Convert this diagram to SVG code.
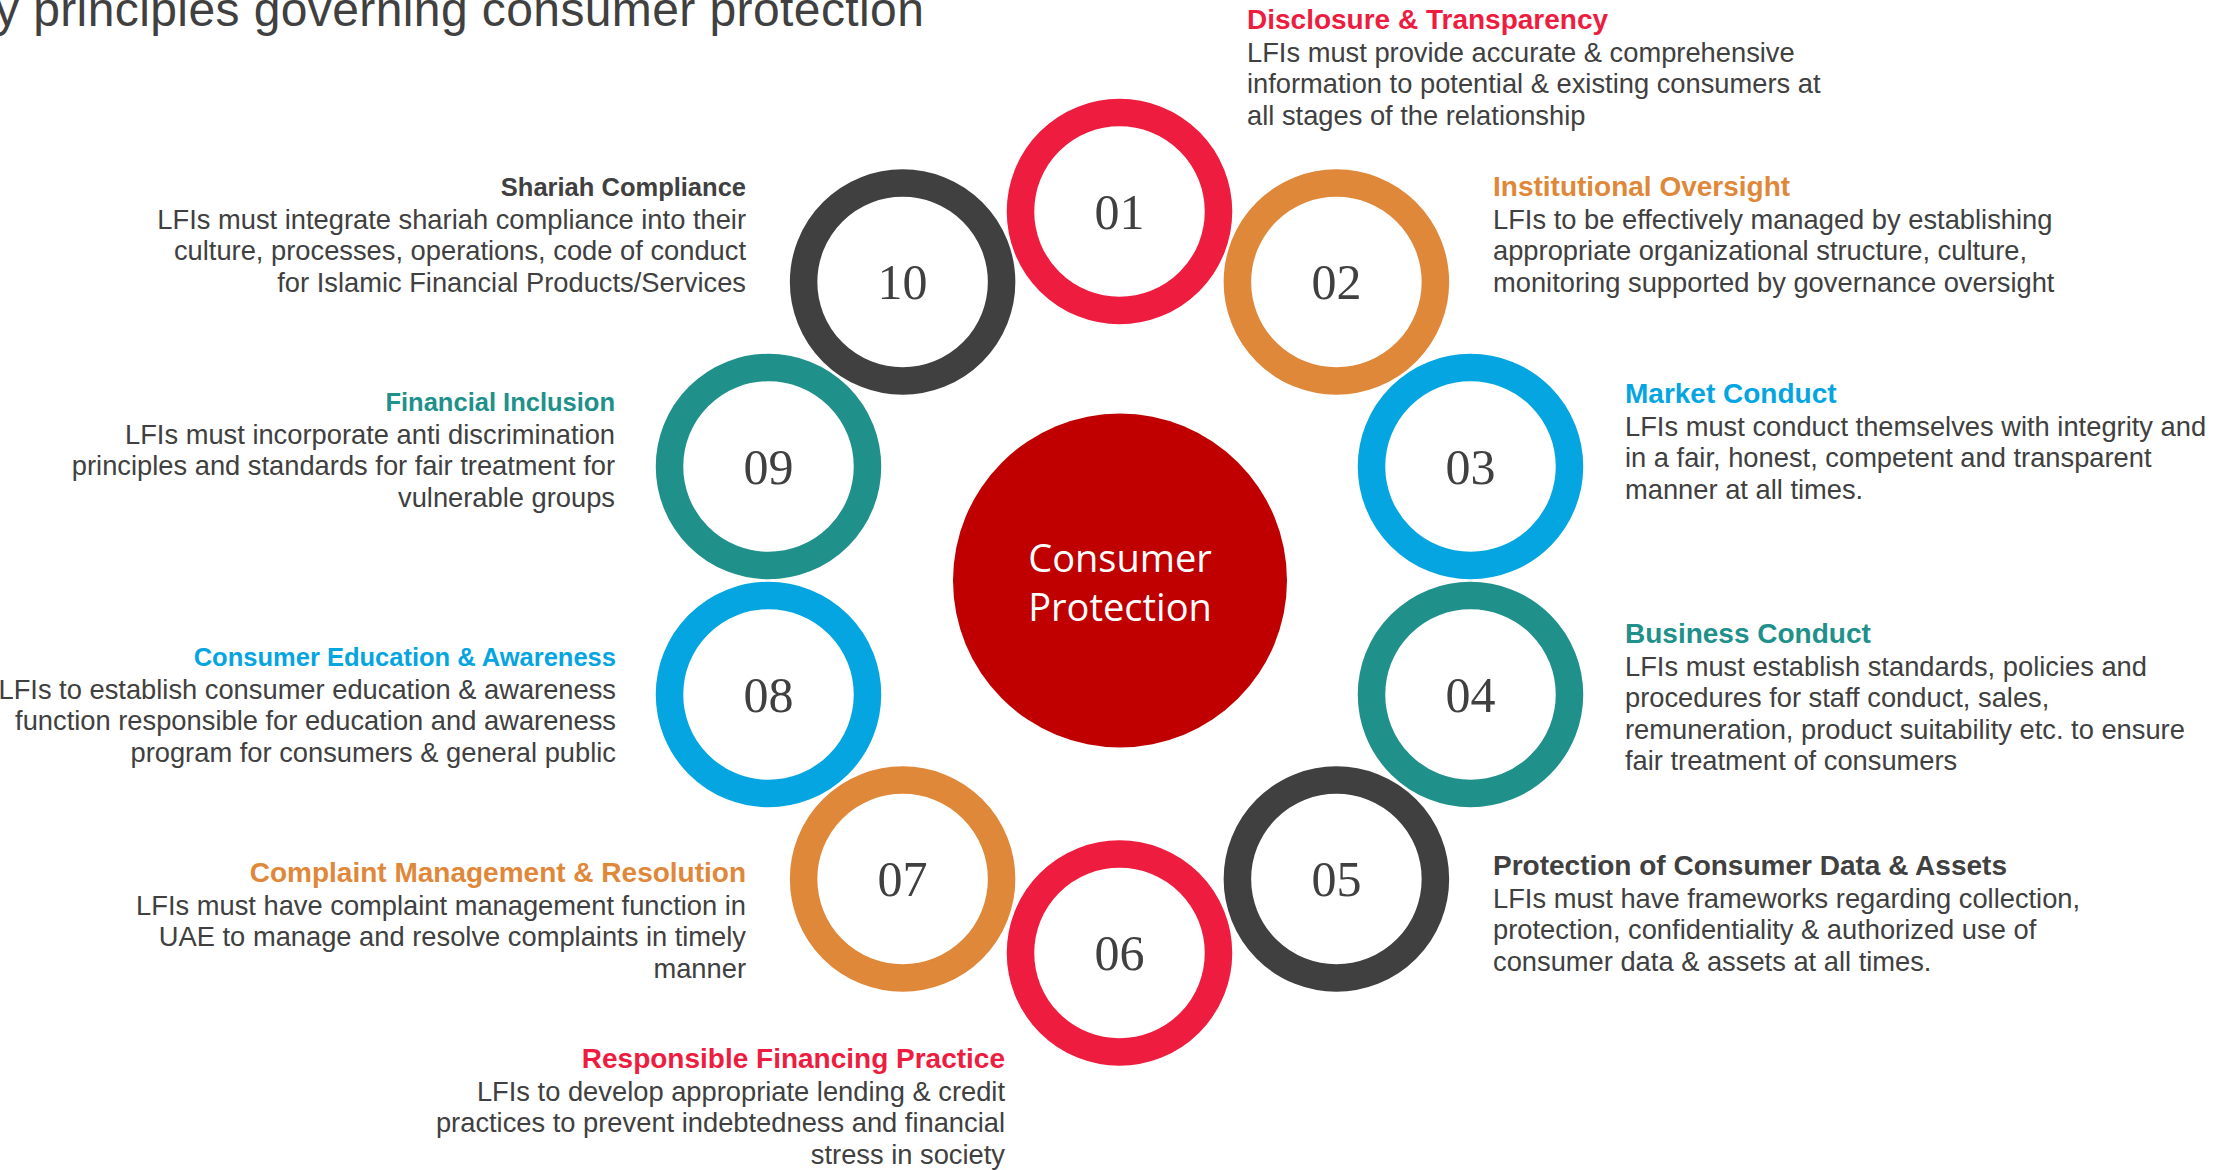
<svg xmlns="http://www.w3.org/2000/svg" width="2229" height="1170" viewBox="0 0 2229 1170">
  <style>
    .title { font-family: "Liberation Sans", Arial, sans-serif; font-size: 48px; fill: #404040; letter-spacing: 0.4px; }
    .ring { fill: none; stroke-width: 27.5; }
    .num { font-family: "Liberation Serif", "Times New Roman", serif; font-size: 50px; fill: #404040; text-anchor: middle; }
    .body { font-family: "Liberation Sans", Arial, sans-serif; font-size: 27.3px; fill: #404040; }
    .head { font-family: "Liberation Sans", Arial, sans-serif; font-weight: bold; font-size: 28px; }
    .small { font-size: 25.5px; }
    .end { text-anchor: end; }
    .red { stroke: #EE1C3F; } .t-red { fill: #EE1C3F; }
    .orange { stroke: #E0883A; } .t-orange { fill: #E0883A; }
    .blue { stroke: #04A5E1; } .t-blue { fill: #04A5E1; }
    .teal { stroke: #20908A; } .t-teal { fill: #20908A; }
    .dark { stroke: #404040; } .t-dark { fill: #404040; }
    .hub-text { font-family: "Open Sans", "Noto Sans", sans-serif; font-size: 38px; fill: #FFFFFF; text-anchor: middle; }
  </style>
  <rect width="2229" height="1170" fill="#FFFFFF"/>

  <text class="title" x="-5" y="26">y principles governing consumer protection</text>

  <g id="connectors"></g>

  <g id="hub">
    <circle cx="1120" cy="580.5" r="167" fill="#C00000"/>
    <text class="hub-text" x="1120" y="572">Consumer</text>
    <text class="hub-text" x="1120" y="621">Protection</text>
  </g>

  <!-- 01 Disclosure & Transparency -->
  <g id="node-01">
    <circle class="ring red" cx="1119.5" cy="211.5" r="99"/>
    <text class="num" x="1119.5" y="228.5">01</text>
    <text class="head t-red" x="1247" y="29">Disclosure &amp; Transparency</text>
    <text class="body" x="1247" y="61.5">LFIs must provide accurate &amp; comprehensive</text>
    <text class="body" x="1247" y="93">information to potential &amp; existing consumers at</text>
    <text class="body" x="1247" y="124.5">all stages of the relationship</text>
  </g>

  <!-- 02 Institutional Oversight -->
  <g id="node-02">
    <circle class="ring orange" cx="1336.4" cy="282" r="99"/>
    <text class="num" x="1336.4" y="299">02</text>
    <text class="head t-orange" x="1493" y="196">Institutional Oversight</text>
    <text class="body" x="1493" y="228.5">LFIs to be effectively managed by establishing</text>
    <text class="body" x="1493" y="260">appropriate organizational structure, culture,</text>
    <text class="body" x="1493" y="291.5">monitoring supported by governance oversight</text>
  </g>

  <!-- 03 Market Conduct -->
  <g id="node-03">
    <circle class="ring blue" cx="1470.5" cy="466.5" r="99"/>
    <text class="num" x="1470.5" y="483.5">03</text>
    <text class="head t-blue" x="1625" y="403">Market Conduct</text>
    <text class="body" x="1625" y="435.5">LFIs must conduct themselves with integrity and</text>
    <text class="body" x="1625" y="467">in a fair, honest, competent and transparent</text>
    <text class="body" x="1625" y="498.5">manner at all times.</text>
  </g>

  <!-- 04 Business Conduct -->
  <g id="node-04">
    <circle class="ring teal" cx="1470.5" cy="694.5" r="99"/>
    <text class="num" x="1470.5" y="711.5">04</text>
    <text class="head t-teal" x="1625" y="643">Business Conduct</text>
    <text class="body" x="1625" y="675.5">LFIs must establish standards, policies and</text>
    <text class="body" x="1625" y="707">procedures for staff conduct, sales,</text>
    <text class="body" x="1625" y="738.5">remuneration, product suitability etc. to ensure</text>
    <text class="body" x="1625" y="770">fair treatment of consumers</text>
  </g>

  <!-- 05 Protection of Consumer Data & Assets -->
  <g id="node-05">
    <circle class="ring dark" cx="1336.4" cy="879" r="99"/>
    <text class="num" x="1336.4" y="896">05</text>
    <text class="head t-dark" x="1493" y="875">Protection of Consumer Data &amp; Assets</text>
    <text class="body" x="1493" y="907.5">LFIs must have frameworks regarding collection,</text>
    <text class="body" x="1493" y="939">protection, confidentiality &amp; authorized use of</text>
    <text class="body" x="1493" y="970.5">consumer data &amp; assets at all times.</text>
  </g>

  <!-- 06 Responsible Financing Practice -->
  <g id="node-06">
    <circle class="ring red" cx="1119.5" cy="953" r="99"/>
    <text class="num" x="1119.5" y="970">06</text>
    <text class="head t-red end" x="1005" y="1068">Responsible Financing Practice</text>
    <text class="body end" x="1005" y="1100.5">LFIs to develop appropriate lending &amp; credit</text>
    <text class="body end" x="1005" y="1132">practices to prevent indebtedness and financial</text>
    <text class="body end" x="1005" y="1163.5">stress in society</text>
  </g>

  <!-- 07 Complaint Management & Resolution -->
  <g id="node-07">
    <circle class="ring orange" cx="902.6" cy="879" r="99"/>
    <text class="num" x="902.6" y="896">07</text>
    <text class="head t-orange end" x="746" y="882">Complaint Management &amp; Resolution</text>
    <text class="body end" x="746" y="914.5">LFIs must have complaint management function in</text>
    <text class="body end" x="746" y="946">UAE to manage and resolve complaints in timely</text>
    <text class="body end" x="746" y="977.5">manner</text>
  </g>

  <!-- 08 Consumer Education & Awareness -->
  <g id="node-08">
    <circle class="ring blue" cx="768.5" cy="694.5" r="99"/>
    <text class="num" x="768.5" y="711.5">08</text>
    <text class="head small t-blue end" x="616" y="666">Consumer Education &amp; Awareness</text>
    <text class="body end" x="616" y="698.5">LFIs to establish consumer education &amp; awareness</text>
    <text class="body end" x="616" y="730">function responsible for education and awareness</text>
    <text class="body end" x="616" y="761.5">program for consumers &amp; general public</text>
  </g>

  <!-- 09 Financial Inclusion -->
  <g id="node-09">
    <circle class="ring teal" cx="768.5" cy="466.5" r="99"/>
    <text class="num" x="768.5" y="483.5">09</text>
    <text class="head small t-teal end" x="615" y="411">Financial Inclusion</text>
    <text class="body end" x="615" y="443.5">LFIs must incorporate anti discrimination</text>
    <text class="body end" x="615" y="475">principles and standards for fair treatment for</text>
    <text class="body end" x="615" y="506.5">vulnerable groups</text>
  </g>

  <!-- 10 Shariah Compliance -->
  <g id="node-10">
    <circle class="ring dark" cx="902.6" cy="282" r="99"/>
    <text class="num" x="902.6" y="299">10</text>
    <text class="head small t-dark end" x="746" y="196">Shariah Compliance</text>
    <text class="body end" x="746" y="228.5">LFIs must integrate shariah compliance into their</text>
    <text class="body end" x="746" y="260">culture, processes, operations, code of conduct</text>
    <text class="body end" x="746" y="291.5">for Islamic Financial Products/Services</text>
  </g>
</svg>
